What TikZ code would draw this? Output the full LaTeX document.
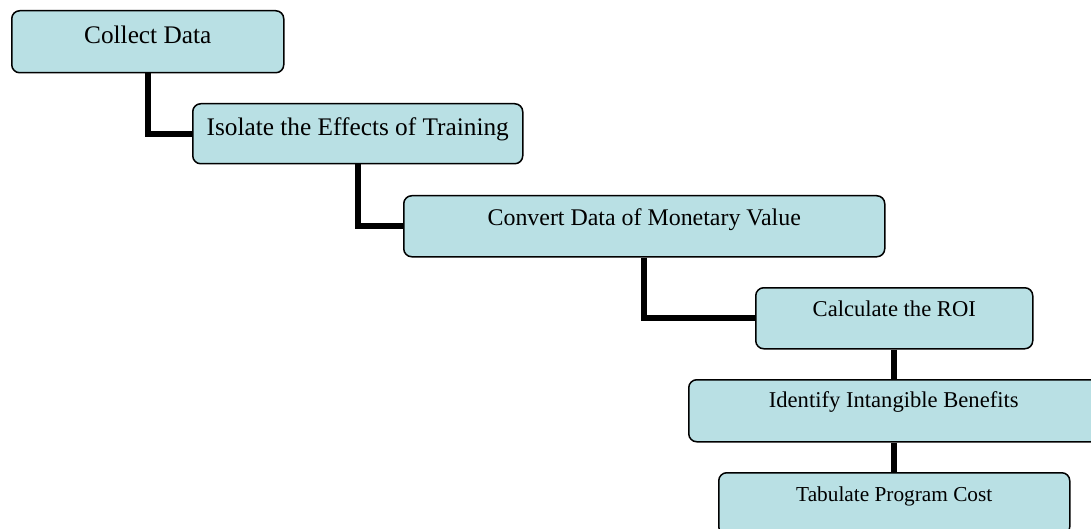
\documentclass[tikz,border=0pt]{standalone}
\usepackage{fontspec}
\setmainfont{Liberation Serif}
\definecolor{boxfill}{RGB}{185,224,228}
\begin{document}
\begin{tikzpicture}[x=1pt,y=-1pt,
  stepbox/.style={draw=black, line width=1.5pt, fill=boxfill, rounded corners=8pt,
    inner sep=0pt, anchor=north west, align=center},
  link/.style={line width=5.8pt, black}]
\useasboundingbox (0,0) rectangle (1091,529);
\clip (0,0) rectangle (1091,529);
\node[stepbox, minimum width=272pt, text height=33pt, text depth=29pt,
  font=\fontsize{25.3}{30}\selectfont] (b1) at (11,10) {Collect Data};
\node[stepbox, minimum width=330pt, text height=32pt, text depth=28pt,
  font=\fontsize{25.3}{30}\selectfont] (b2) at (192,103) {Isolate the Effects of Training};
\node[stepbox, minimum width=481pt, text height=30pt, text depth=31pt,
  font=\fontsize{23.9}{28}\selectfont] (b3) at (403,195) {Convert Data of Monetary Value};
\node[stepbox, minimum width=277pt, text height=29pt, text depth=32pt,
  font=\fontsize{22.6}{27}\selectfont] (b4) at (755,287) {Calculate the ROI};
\node[stepbox, minimum width=410pt, text height=28pt, text depth=34pt,
  font=\fontsize{22.6}{27}\selectfont] (b5) at (688,379) {Identify Intangible Benefits};
\node[stepbox, minimum width=351pt, text height=29pt, text depth=33pt,
  font=\fontsize{21.3}{26}\selectfont] (b6) at (718,472) {Tabulate Program Cost};
\draw[link] (b1.south) |- (b2.west);
\draw[link] (b2.south) |- (b3.west);
\draw[link] (b3.south) |- (b4.west);
\draw[link] (b4.south) -- (b4.south |- b5.north);
\draw[link] (b5.south -| b6.north) -- (b6.north);
\end{tikzpicture}
\end{document}
